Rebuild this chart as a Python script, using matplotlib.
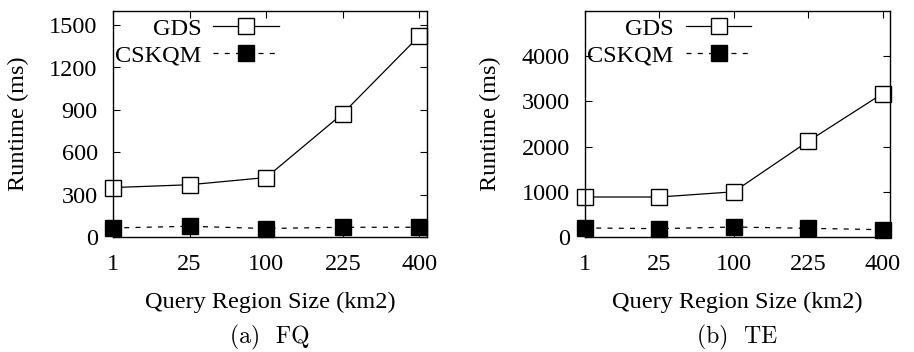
import matplotlib
matplotlib.use("Agg")
import matplotlib.pyplot as plt

# data
sizes = ["1", "25", "100", "225", "400"]
fq_gds = [350, 370, 421, 874, 1424]
fq_cskqm = [64, 76, 60, 69, 69]
te_gds = [885, 885, 1000, 2118, 3172]
te_cskqm = [200, 185, 221, 192, 162]

plt.rcParams['font.family'] = ['Liberation Serif', 'DejaVu Serif']
plt.rcParams['font.size'] = 17.5

fig = plt.figure(figsize=(9.14, 3.52), dpi=100)
ax1 = fig.add_axes([113 / 914, 1 - 237 / 352, 314 / 914, 226 / 352])
ax2 = fig.add_axes([585 / 914, 1 - 237 / 352, 305 / 914, 226 / 352])

x = list(range(len(sizes)))


def draw(ax, gds, csk, ymax, yticks, caption):
    ax.plot(x, gds, color="black", lw=0.9, marker="s", ms=11,
            mfc="white", mec="black", mew=1.0, label="GDS", clip_on=False)
    ax.plot(x, csk, color="black", lw=0.9, ls=(0, (4, 5)), marker="s", ms=11,
            mfc="black", mec="black", label="CSKQM", clip_on=False)
    ax.set_xlim(0, 4.1)
    ax.set_ylim(0, ymax)
    ax.set_xticks(x)
    ax.set_xticklabels(sizes)
    ax.set_yticks(yticks)
    ax.tick_params(direction="in", top=True, right=True, length=5, width=0.8)
    ax.tick_params(axis="x", pad=12)
    ax.tick_params(axis="y", pad=11)
    for s in ax.spines.values():
        s.set_linewidth(1.0)
    ax.set_xlabel("Query Region Size (km2)", labelpad=12)
    ax.set_ylabel("Runtime (ms)")
    w = ax.get_position().width * 914
    ax.yaxis.set_label_coords(-84 / w, 0.5)
    leg = ax.legend(loc="upper left", bbox_to_anchor=(-0.04, 1.035), frameon=False,
                    markerfirst=False, handlelength=2.7, handletextpad=0.5,
                    labelspacing=0.2, borderaxespad=0.2)
    for t in leg.get_texts():
        t.set_ha("right")
    ax.text(0.5, -100 / 226, caption, transform=ax.transAxes, ha="center", va="center",
            fontfamily="cmr10", fontsize=17)


draw(ax1, fq_gds, fq_cskqm, 1600, [0, 300, 600, 900, 1200, 1500], "(a)  FQ")
draw(ax2, te_gds, te_cskqm, 5000, [0, 1000, 2000, 3000, 4000], "(b)  TE")

fig.savefig("out.png", dpi=100)
